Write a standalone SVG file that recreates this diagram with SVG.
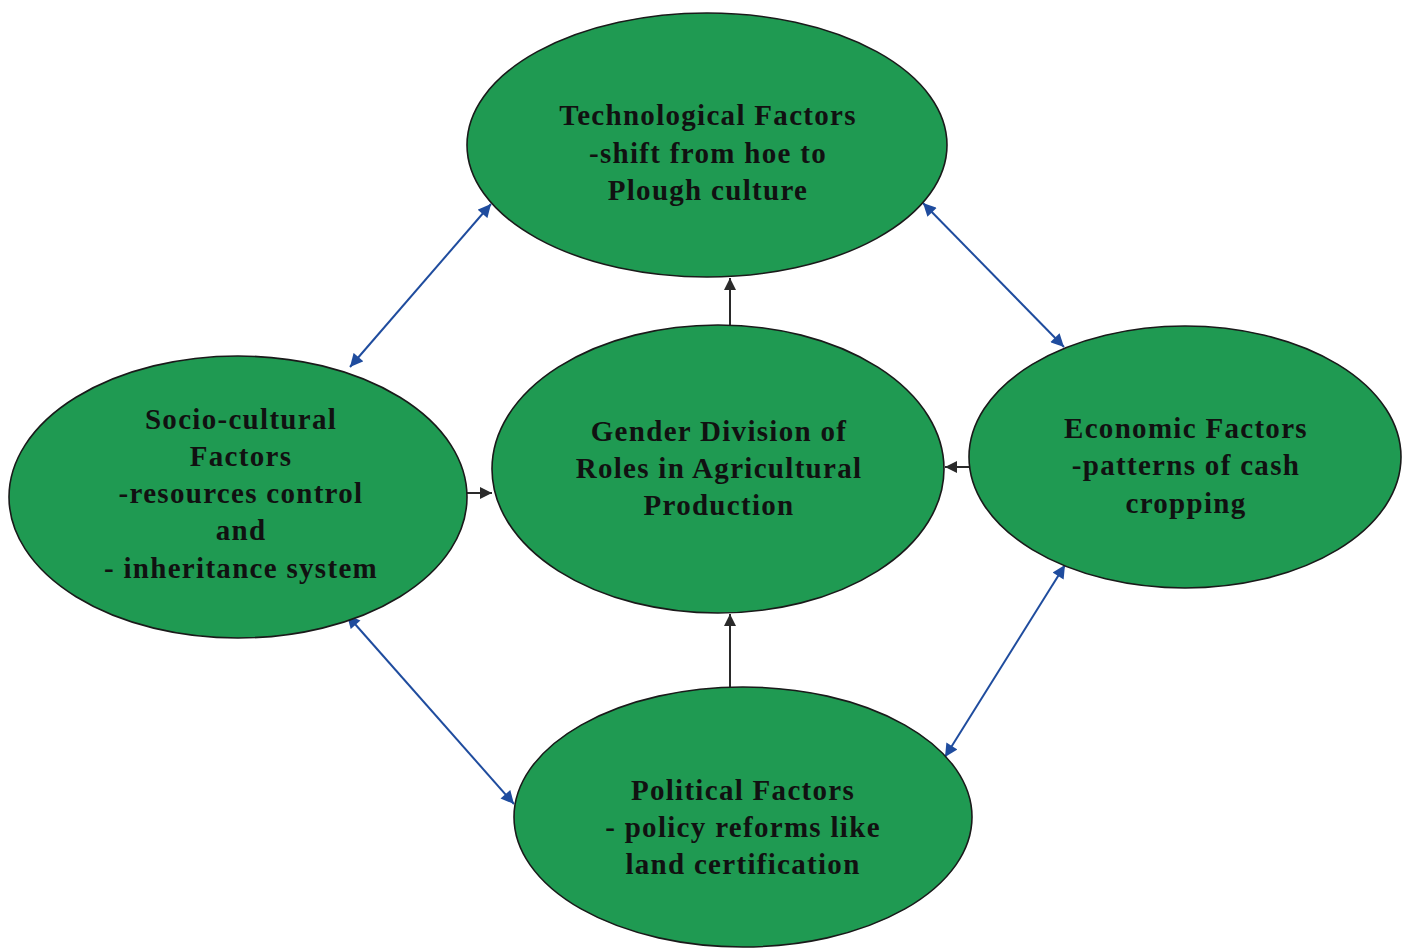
<svg xmlns="http://www.w3.org/2000/svg" width="1407" height="950" viewBox="0 0 1407 950">
<style>
.node ellipse{fill:#1f9a52;stroke:#1a1a1a;stroke-width:1.6}
.node text{font-family:"Liberation Serif","Times New Roman",serif;font-weight:bold;font-size:29px;letter-spacing:1.3px;fill:#111;text-anchor:middle}
.blue{stroke:#1f4c9e;stroke-width:2;fill:none;marker-start:url(#ab);marker-end:url(#ab)}
.dark{stroke:#2a2a2a;stroke-width:2;fill:none;marker-end:url(#ak)}
</style>
<defs>
<marker id="ab" viewBox="0 0 10 10" refX="10" refY="5" markerWidth="7" markerHeight="6.5" orient="auto-start-reverse" markerUnits="strokeWidth">
<path d="M0,0 L10,5 L0,10 z" fill="#1f4c9e"/>
</marker>
<marker id="ak" viewBox="0 0 10 10" refX="10" refY="5" markerWidth="6.5" markerHeight="6" orient="auto" markerUnits="strokeWidth">
<path d="M0,0 L10,5 L0,10 z" fill="#2a2a2a"/>
</marker>
</defs>
<rect width="1407" height="950" fill="#ffffff"/>
<g id="connectors">
<line class="dark" x1="730" y1="325" x2="730" y2="278"/>
<line class="dark" x1="730" y1="688" x2="730" y2="614"/>
<line class="dark" x1="467" y1="493" x2="492" y2="493"/>
<line class="dark" x1="969" y1="467" x2="945" y2="467"/>
<line class="blue" x1="350" y1="367" x2="491" y2="204"/>
<line class="blue" x1="923" y1="203" x2="1064" y2="347"/>
<line class="blue" x1="347" y1="615" x2="514" y2="804"/>
<line class="blue" x1="1065" y1="565" x2="945" y2="757"/>
</g>
<g id="technological" class="node">
<ellipse cx="707" cy="145" rx="240" ry="132"/>
<text x="708" y="125">Technological Factors</text>
<text x="708" y="163">-shift from hoe to</text>
<text x="708" y="200">Plough culture</text>
</g>
<g id="sociocultural" class="node">
<ellipse cx="238" cy="497" rx="229" ry="141"/>
<text x="241" y="429">Socio-cultural</text>
<text x="241" y="466">Factors</text>
<text x="241" y="503">-resources control</text>
<text x="241" y="540">and</text>
<text x="241" y="578">- inheritance system</text>
</g>
<g id="gender" class="node">
<ellipse cx="718" cy="469" rx="226" ry="144"/>
<text x="719" y="441">Gender Division of</text>
<text x="719" y="478">Roles in Agricultural</text>
<text x="719" y="515">Production</text>
</g>
<g id="economic" class="node">
<ellipse cx="1185" cy="457" rx="216" ry="131"/>
<text x="1186" y="438">Economic Factors</text>
<text x="1186" y="475">-patterns of cash</text>
<text x="1186" y="513">cropping</text>
</g>
<g id="political" class="node">
<ellipse cx="743" cy="817" rx="229" ry="130"/>
<text x="743" y="800">Political Factors</text>
<text x="743" y="837">- policy reforms like</text>
<text x="743" y="874">land certification</text>
</g>
</svg>
